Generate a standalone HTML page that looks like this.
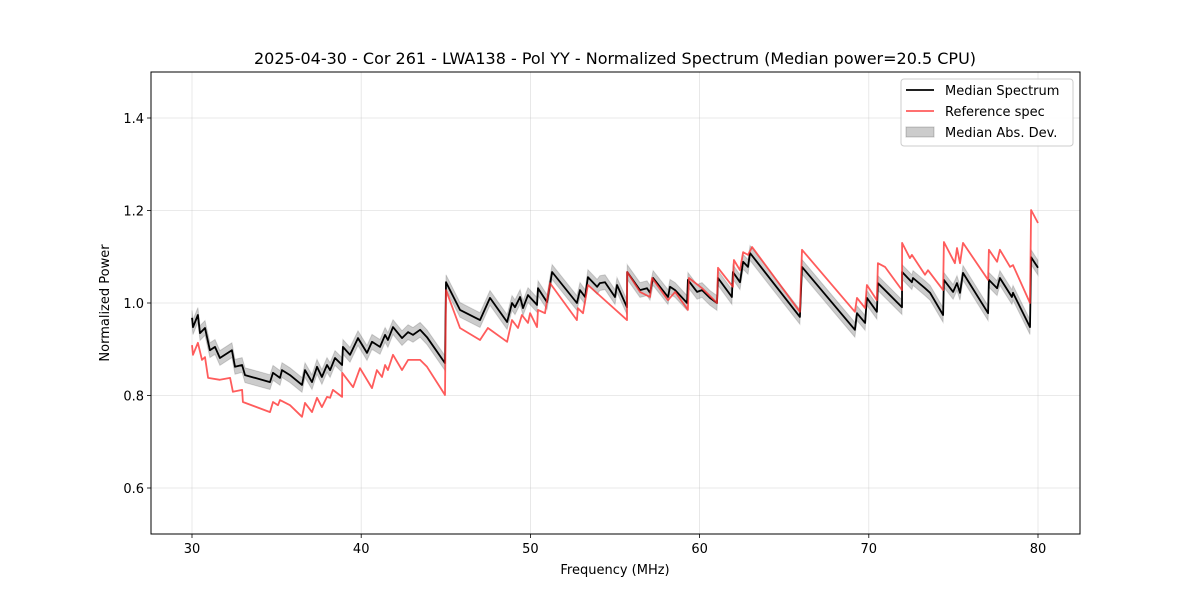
<!DOCTYPE html>
<html><head><meta charset="utf-8"><style>
html,body{margin:0;padding:0;background:#fff;}
svg text{font-family:"DejaVu Sans","Liberation Sans",sans-serif;fill:#000;}
</style></head><body>
<svg id="chart" width="1200" height="600" viewBox="0 0 1200 600" xmlns="http://www.w3.org/2000/svg">
<rect width="1200" height="600" fill="#fff"/>
<g id="grid"></g>
<g id="series"></g>
<rect x="151" y="72" width="929" height="462" fill="none" stroke="#000" stroke-width="1"/>
<g id="axes"></g>
<text x="615" y="64" font-size="16" text-anchor="middle">2025-04-30 - Cor 261 - LWA138 - Pol YY - Normalized Spectrum (Median power=20.5 CPU)</text>
<text x="615" y="574" font-size="13" text-anchor="middle">Frequency (MHz)</text>
<text x="109" y="303" font-size="13" text-anchor="middle" transform="rotate(-90 109 303)">Normalized Power</text>
<g>
<rect x="901" y="79" width="172" height="67" rx="3" fill="#fff" fill-opacity="0.85" stroke="#ccc"/>
<line x1="906" y1="90" x2="934" y2="90" stroke="#000" stroke-width="1.8"/>
<text x="945" y="95" font-size="13">Median Spectrum</text>
<line x1="906" y1="111" x2="934" y2="111" stroke="#ff5c5c" stroke-width="1.8"/>
<text x="945" y="116" font-size="13">Reference spec</text>
<rect x="906" y="127" width="28" height="10" fill="#000" fill-opacity="0.2" stroke="#000" stroke-opacity="0.2"/>
<text x="945" y="137" font-size="13">Median Abs. Dev.</text>
</g>
</svg>
<script>
const medianFreq=[30.00,30.06,30.35,30.47,30.77,31.06,31.36,31.65,32.36,32.54,32.96,33.13,34.61,34.79,35.20,35.32,35.79,36.50,36.68,37.09,37.39,37.68,37.98,38.16,38.45,38.87,38.92,39.34,39.81,40.34,40.64,41.11,41.41,41.58,41.88,42.41,42.77,43.06,43.48,43.89,44.95,45.01,45.84,47.02,47.61,48.62,48.91,49.09,49.39,49.56,49.86,50.39,50.45,50.98,51.28,52.75,52.93,53.23,53.40,53.94,54.11,54.41,55.00,55.12,55.71,55.72,56.48,56.89,57.07,57.25,58.13,58.25,58.55,59.26,59.31,59.85,60.14,60.61,61.03,61.09,61.91,61.97,62.39,62.57,62.86,62.98,65.93,66.05,69.18,69.30,69.78,69.89,70.48,70.54,71.96,71.97,72.55,72.61,73.32,73.62,74.39,74.44,74.98,75.21,75.39,75.57,77.05,77.10,77.58,77.75,78.46,78.52,79.53,79.59,80.00];
const medianPower=[0.968,0.948,0.974,0.935,0.946,0.898,0.905,0.881,0.898,0.862,0.866,0.844,0.829,0.849,0.838,0.855,0.844,0.823,0.855,0.829,0.862,0.840,0.866,0.855,0.881,0.866,0.905,0.888,0.924,0.892,0.916,0.905,0.931,0.920,0.948,0.924,0.937,0.931,0.942,0.926,0.870,1.045,0.985,0.963,1.011,0.959,1.000,0.991,1.013,0.989,1.017,0.996,1.032,1.002,1.067,1.000,1.028,1.013,1.056,1.035,1.043,1.045,1.013,1.039,0.991,1.067,1.028,1.032,1.022,1.054,1.013,1.035,1.028,1.000,1.050,1.024,1.028,1.011,1.000,1.054,1.013,1.067,1.045,1.089,1.078,1.108,0.970,1.078,0.942,0.978,0.957,1.011,0.981,1.043,0.991,1.067,1.045,1.054,1.032,1.022,0.974,1.050,1.024,1.043,1.022,1.065,0.978,1.050,1.032,1.054,1.013,1.022,0.948,1.099,1.076];
const refFreq=[30.00,30.06,30.35,30.59,30.77,30.95,31.65,32.25,32.42,32.96,33.01,34.61,34.79,35.08,35.20,35.79,36.50,36.68,37.09,37.39,37.68,37.98,38.16,38.33,38.87,38.88,39.52,39.93,40.64,40.93,41.23,41.41,41.58,41.88,42.41,42.77,43.48,43.89,44.95,45.01,45.84,47.02,47.49,48.62,48.91,49.27,49.50,49.86,49.98,50.39,50.45,50.86,50.98,51.16,52.75,52.81,53.11,53.40,55.71,55.72,56.48,57.07,57.19,58.13,58.55,59.31,59.37,60.14,61.03,61.09,61.97,62.03,62.39,62.57,62.86,63.10,65.93,66.05,69.18,69.30,69.78,69.89,70.48,70.54,70.96,71.96,71.97,72.43,72.55,73.32,73.50,74.39,74.44,75.09,75.21,75.39,75.57,77.05,77.10,77.58,77.75,78.35,78.52,79.53,79.59,80.00];
const refPower=[0.909,0.888,0.914,0.877,0.883,0.838,0.834,0.838,0.808,0.812,0.786,0.764,0.786,0.779,0.790,0.779,0.754,0.784,0.764,0.795,0.775,0.797,0.795,0.812,0.797,0.849,0.818,0.859,0.816,0.855,0.840,0.866,0.855,0.888,0.855,0.877,0.877,0.862,0.801,1.028,0.946,0.920,0.946,0.916,0.963,0.946,0.974,0.957,0.978,0.948,0.985,0.978,1.006,1.043,0.963,0.989,0.978,1.039,0.963,1.067,1.024,1.013,1.054,1.006,1.024,0.985,1.054,1.032,1.000,1.076,1.035,1.093,1.071,1.110,1.104,1.121,0.981,1.115,0.981,1.011,0.989,1.039,1.006,1.086,1.078,1.028,1.130,1.097,1.104,1.061,1.071,1.028,1.132,1.086,1.119,1.086,1.130,1.050,1.115,1.089,1.115,1.078,1.082,1.000,1.201,1.173];
const madDev=[0.016];
const xTicks=[30,40,50,60,70,80];
const yTicks=[0.6,0.8,1.0,1.2,1.4];
const yTickLabels=["0.6","0.8","1.0","1.2","1.4"];

const NS="http://www.w3.org/2000/svg";
const X0=151,X1=1080,Y0=72,Y1=534;
function xs(f){return 192+(f-30)*(846/50);}
function ys(v){return 303-(v-1)*462.5;}
function mk(tag,attrs,parent){const e=document.createElementNS(NS,tag);for(const k in attrs)e.setAttribute(k,attrs[k]);parent.appendChild(e);return e;}
const grid=document.getElementById('grid'),axes=document.getElementById('axes'),series=document.getElementById('series');
xTicks.forEach(t=>{
  const x=xs(t);
  const gl=mk('line',{x1:x,x2:x,y1:Y0,y2:Y1,stroke:'#b0b0b0','stroke-opacity':0.35,'stroke-width':0.8},grid);
  
  
  const tk=mk('line',{x1:x,x2:x,y1:Y1,y2:Y1+4,stroke:'#000','stroke-width':0.8},axes);
  
  
  const tx=mk('text',{x:x,y:Y1+19,'font-size':13,'text-anchor':'middle'},axes);
  tx.textContent=String(t);
  
  
});
yTicks.forEach((t,i)=>{
  const y=ys(t);
  const gl=mk('line',{x1:X0,x2:X1,y1:y,y2:y,stroke:'#b0b0b0','stroke-opacity':0.35,'stroke-width':0.8},grid);
  
  
  const tk=mk('line',{x1:X0-4,x2:X0,y1:y,y2:y,stroke:'#000','stroke-width':0.8},axes);
  
  
  const tx=mk('text',{x:X0-7,y:y+5,'font-size':13,'text-anchor':'end'},axes);
  tx.textContent=yTickLabels[i];
  
  
});
let up=[],lo=[];
medianFreq.forEach((f,i)=>{up.push(xs(f).toFixed(1)+','+ys(medianPower[i]+madDev[0]).toFixed(1));lo.push(xs(f).toFixed(1)+','+ys(medianPower[i]-madDev[0]).toFixed(1));});
const band=mk('polygon',{points:up.concat(lo.reverse()).join(' '),fill:'#000','fill-opacity':0.2,stroke:'#000','stroke-opacity':0.15},series);


const mp=medianFreq.map((f,i)=>xs(f).toFixed(1)+','+ys(medianPower[i]).toFixed(1)).join(' ');
const ml=mk('polyline',{points:mp,fill:'none',stroke:'#000','stroke-width':1.8,'stroke-linejoin':'round'},series);


const rp=refFreq.map((f,i)=>xs(f).toFixed(1)+','+ys(refPower[i]).toFixed(1)).join(' ');
const rl=mk('polyline',{points:rp,fill:'none',stroke:'#ff3333','stroke-opacity':0.8,'stroke-width':1.8,'stroke-linejoin':'round'},series);


</script>
</body></html>
